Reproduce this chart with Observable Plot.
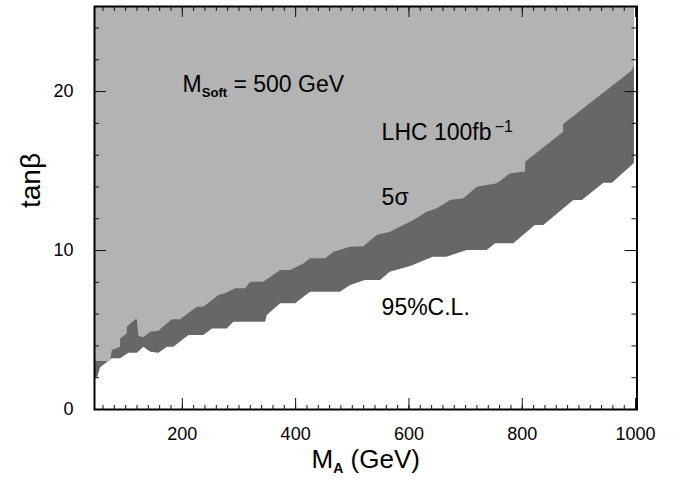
<!DOCTYPE html>
<html><head><meta charset="utf-8">
<script src="https://cdn.jsdelivr.net/npm/d3@7"></script>
<script src="https://cdn.jsdelivr.net/npm/@observablehq/plot@0.6"></script>
<style>body{margin:0;background:#fff;} svg{display:block}</style>
</head><body><div id="chart"></div>
<script>
// Upper boundary (5 sigma discovery, light grey above)
const upperM = [45, 73.5, 76.5, 91, 91, 103, 103, 117.6, 120.6, 123.4, 132.2, 144, 158.7, 182, 197, 226.5, 238, 264.6, 276, 294, 311.7, 320.5, 344, 373.5, 391, 414.6, 426, 453, 467.5, 497, 520, 544, 567.5, 585, 609, 632, 650, 673.5, 697, 720.6, 755.8, 779, 800, 806, 806, 873, 873, 994, 998];
const upperT = [3.02, 3.02, 3.71, 3.92, 4.44, 4.76, 5.18, 5.64, 5.64, 4.59, 4.51, 4.86, 4.92, 5.64, 5.64, 6.43, 6.43, 7.17, 7.28, 7.59, 7.59, 8.0, 8.0, 8.74, 8.74, 9.16, 9.48, 9.48, 9.89, 10.2, 10.24, 10.94, 11.15, 11.47, 11.89, 12.41, 12.62, 13.14, 13.25, 13.98, 14.2, 14.82, 14.92, 14.92, 15.55, 17.44, 17.92, 21.3, 21.6];
// Lower boundary (95% C.L., white below)
const lowerM = [45, 51, 55.8, 76.5, 91, 105.8, 120.6, 132.2, 144, 158.7, 173.5, 185.2, 211.6, 238, 253, 279.4, 291, 347, 350, 373.5, 400, 414.6, 426.5, 479, 497, 523, 550, 567, 603, 643, 667, 703, 738, 753, 785, 823, 838, 891, 906, 944, 959, 997, 998];
const lowerT = [2.0, 2.03, 2.62, 3.19, 3.19, 3.54, 3.54, 3.92, 3.6, 3.54, 3.92, 3.92, 4.65, 4.65, 5.07, 5.07, 5.49, 5.49, 5.91, 6.65, 6.65, 7.06, 7.38, 7.38, 7.8, 8.11, 8.11, 8.64, 9.0, 9.58, 9.58, 10.0, 10.0, 10.42, 10.42, 11.57, 11.57, 13.14, 13.14, 14.23, 14.23, 15.45, 15.5];

const xMajor = [200, 400, 600, 800, 1000];
const yMajor = [0, 10, 20];
const xMinor = d3.range(60, 1001, 20);
const yMinor = d3.range(2, 25, 2);

const labelText = ["M_{Soft} = 500 GeV", "LHC 100fb^{−1}", "5σ", "95%C.L."];
const labelM = [200.5, 551.7, 551.7, 551.7];
const labelT = [20.42, 17.42, 13.35, 6.38];
const xTitle = "M_{A} (GeV)";
const yTitle = "tanβ";

const xDomain = [45, 1002.5];
const yDomain = [0, 25.35];
const W = 683, H = 483, mL = 94, mR = 46.5, mT = 6, mB = 74;
const innerW = W - mL - mR, innerH = H - mT - mB;
const lightGrey = "#b3b3b3", darkGrey = "#676767";
const font = "'Liberation Sans', Arial, Helvetica, sans-serif";

const upper = upperM.map((m, i) => ({m, t: upperT[i]}));
const lower = lowerM.map((m, i) => ({m, t: lowerT[i]}));

const chart = Plot.plot({
  width: W, height: H,
  marginLeft: mL, marginRight: mR, marginTop: mT, marginBottom: mB,
  style: {fontFamily: font, fontSize: "18px", background: "#fff", color: "#000"},
  x: {domain: xDomain},
  y: {domain: yDomain},
  marks: [
    Plot.areaY(lower, {x: "m", y1: "t", y2: () => yDomain[1], fill: darkGrey, curve: "linear"}),
    Plot.areaY(upper, {x: "m", y1: "t", y2: () => yDomain[1], fill: lightGrey, curve: "linear"}),
    // inward ticks
    Plot.tickX(xMinor, {x: d => d, stroke: "#111", insetTop: innerH - 4}),
    Plot.tickX(xMajor, {x: d => d, stroke: "#111", insetTop: innerH - 11}),
    Plot.tickX(xMinor, {x: d => d, stroke: "#111", insetBottom: innerH - 5}),
    Plot.tickX(xMajor, {x: d => d, stroke: "#111", insetBottom: innerH - 11}),
    Plot.tickY(yMinor, {y: d => d, stroke: "#111", insetRight: innerW - 5}),
    Plot.tickY(yMajor, {y: d => d, stroke: "#111", insetRight: innerW - 12}),
    Plot.tickY(yMinor, {y: d => d, stroke: "#111", insetLeft: innerW - 5}),
    Plot.tickY(yMajor, {y: d => d, stroke: "#111", insetLeft: innerW - 12}),
    Plot.axisX({ticks: xMajor, tickSize: 0, tickPadding: 18, fontSize: 18, label: null, tickFormat: d => `${d}`}),
    Plot.axisY({ticks: yMajor, tickSize: 0, tickPadding: 21, fontSize: 18, label: null, tickFormat: d => `${d}`}),
    Plot.frame({stroke: "#000", strokeWidth: 2}),
    Plot.text(labelText, {x: (d, i) => labelM[i], y: (d, i) => labelT[i], text: d => d, textAnchor: "start", fontSize: 23, fill: "#000"}),
    Plot.text([xTitle], {frameAnchor: "bottom", dy: 58, text: d => d, fontSize: 26, fill: "#000"}),
    Plot.text([yTitle], {frameAnchor: "left", dx: -63, rotate: -90, text: d => d, fontSize: 28, fill: "#000"})
  ]
});

// rich text: _{sub} and ^{sup}
function rich(el, s) {
  const fs = parseFloat(getComputedStyle(el).fontSize) || 23;
  const parts = s.split(/(_\{[^}]*\}|\^\{[^}]*\})/).filter(p => p.length);
  el.textContent = "";
  let shift = 0;
  for (const p of parts) {
    const t = document.createElementNS("http://www.w3.org/2000/svg", "tspan");
    let target = 0;
    if (p.startsWith("_{")) {
      t.textContent = p.slice(2, -1);
      t.setAttribute("font-size", Math.round(fs * 0.55));
      t.setAttribute("font-weight", "bold");
      target = fs * 0.22;
    } else if (p.startsWith("^{")) {
      t.textContent = "\u2009" + p.slice(2, -1);
      t.setAttribute("font-size", Math.round(fs * 0.68));
      target = -fs * 0.36;
    } else {
      t.textContent = p;
    }
    const d = target - shift;
    if (d !== 0) t.setAttribute("dy", d.toFixed(1));
    shift = target;
    el.appendChild(t);
  }
}
document.getElementById("chart").appendChild(chart);
d3.select(chart).selectAll("text").each(function() {
  const s = this.textContent;
  if (/[_^]\{/.test(s)) rich(this, s);
});
</script>
</body></html>
